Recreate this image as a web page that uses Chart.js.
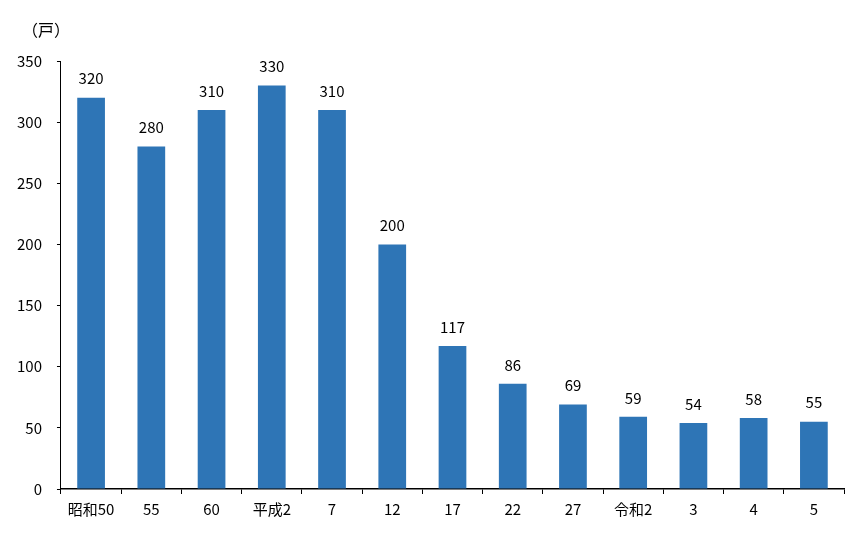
<!DOCTYPE html>
<html>
<head>
<meta charset="utf-8">
<script src="https://cdn.jsdelivr.net/npm/chart.js@4"></script>
<style>
  html, body { margin: 0; padding: 0; background: #fff; }
  #wrap { width: 858px; height: 539px; }
</style>
</head>
<body>
<div id="wrap"><canvas id="c"></canvas></div>
<script>
// 年次ラベルと戸数
const years = ['昭和50', '55', '60', '平成2', '7', '12', '17', '22', '27', '令和2', '3', '4', '5'];
const households = [320, 280, 310, 330, 310, 200, 117, 86, 69, 59, 54, 58, 55];
const yTicks = [0, 50, 100, 150, 200, 250, 300, 350];

const FONT = '"Noto Sans CJK JP", "Noto Sans", sans-serif';

// 棒の上に数値、左上に単位を描く
const labelPlugin = {
    id: 'labels',
    afterDatasetsDraw(chart) {
        const ctx = chart.ctx;
        const meta = chart.getDatasetMeta(0);
        ctx.save();
        ctx.fillStyle = '#000';
        ctx.font = '15px ' + FONT;
        ctx.textAlign = 'center';
        ctx.textBaseline = 'middle';
        meta.data.forEach((bar, i) => {
            ctx.fillText(String(households[i]), bar.x, bar.y - 19);
        });
        ctx.textAlign = 'left';
        ctx.font = '16px ' + FONT;
        ctx.fillText('（戸）', 22, 30);
        ctx.restore();
    }
};

new Chart(document.getElementById('c'), {
    type: 'bar',
    data: {
        labels: years,
        datasets: [{
            data: households,
            backgroundColor: '#2E75B6',
            borderWidth: 0,
            categoryPercentage: 1,
            barPercentage: 0.46
        }]
    },
    options: {
        responsive: true,
        maintainAspectRatio: false,
        animation: false,
        layout: { padding: { top: 61, right: 14, bottom: 15, left: 2 } },
        plugins: { legend: { display: false }, tooltip: { enabled: false } },
        scales: {
            x: {
                grid: { display: true, drawOnChartArea: false, drawTicks: true, tickLength: 5, color: '#000', offset: true },
                border: { color: '#000', width: 1.5 },
                ticks: { color: '#000', font: { size: 15, family: FONT }, padding: 6, maxRotation: 0 }
            },
            y: {
                min: 0,
                max: 350,
                afterBuildTicks(axis) { axis.ticks = yTicks.map(v => ({ value: v })); },
                grid: { display: true, drawOnChartArea: false, drawTicks: true, tickLength: 4, color: '#000' },
                border: { color: '#000', width: 1 },
                ticks: { color: '#000', font: { size: 15, family: FONT }, padding: 15 }
            }
        }
    },
    plugins: [labelPlugin]
});
</script>
</body>
</html>
